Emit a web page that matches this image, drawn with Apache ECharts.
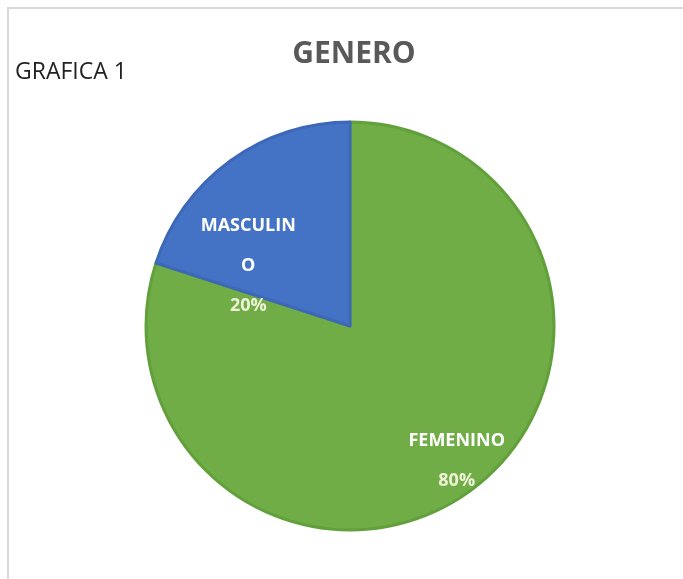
<!DOCTYPE html>
<html>
<head>
<meta charset="utf-8">
<script src="https://cdn.jsdelivr.net/npm/echarts@6/dist/echarts.min.js"></script>
<style>
  html, body { margin: 0; padding: 0; background: #fff; }
  #frame {
    position: absolute; left: 7px; top: 7px; width: 676px; height: 572px;
    border-left: 2px solid #d9d9d9; border-top: 2px solid #d9d9d9;
  }
  #chart { position: absolute; left: 0; top: 0; width: 683px; height: 579px; }
</style>
</head>
<body>
<div id="frame"></div>
<div id="chart"></div>
<script>
// datos de la grafica
var categories = ["FEMENINO", "MASCULINO"];
var values = [80, 20];
var colors = ["#70ad47", "#4472c4"];
var borderColors = ["#62a03c", "#3d68b8"];
// desplazamiento de etiquetas (estilo Excel)
var labelOffsets = [[45, 50], [-40, 25]];

var chart = echarts.init(document.getElementById("chart"));

var pieData = categories.map(function(name, i) {
  return {
    name: name,
    value: values[i],
    itemStyle: { color: colors[i], borderColor: borderColors[i], borderWidth: 3 },
    label: { offset: labelOffsets[i] }
  };
});

chart.setOption({
  animation: false,
  title: [
    {
      text: "GENERO",
      left: 349,
      top: 34,
      textAlign: "center",
      textStyle: { fontFamily: "Open Sans", fontWeight: "bold", fontSize: 30, color: "#595959" }
    },
    {
      text: "GRAFICA 1",
      left: 10,
      top: 56,
      textStyle: { fontFamily: "Open Sans", fontWeight: "normal", fontSize: 23, color: "#222" }
    }
  ],
  series: [
    {
      type: "pie",
      center: [350, 326],
      radius: 204,
      startAngle: 90,
      clockwise: true,
      data: pieData,
      label: {
        position: "inside",
        lineHeight: 40,
        formatter: function(p) {
          var n = p.name.length > 8 ? p.name.slice(0, 8) + "\n" + p.name.slice(8) : p.name;
          return "{n|" + n.split("\n").join("}\n{n|") + "}\n{p|" + p.percent + "%}";
        },
        rich: {
          n: { fontFamily: "Open Sans", fontWeight: "bold", fontSize: 18, color: "#ffffff", lineHeight: 40 },
          p: { fontFamily: "Open Sans", fontWeight: "bold", fontSize: 18, color: "#eef2d8", lineHeight: 40 }
        }
      },
      labelLine: { show: false },
      emphasis: { disabled: true }
    }
  ]
});
</script>
</body>
</html>
